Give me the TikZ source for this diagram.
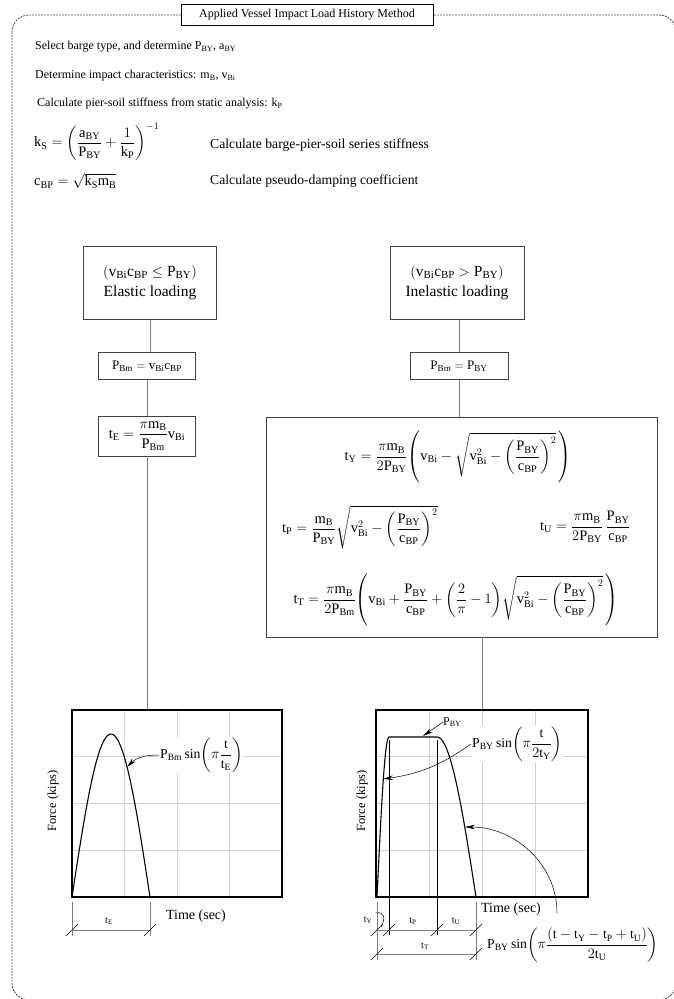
\documentclass[tikz,border=0pt]{standalone}
\usepackage{amsmath}
\usepackage{fontspec}
\setmainfont{Liberation Serif}
\usetikzlibrary{arrows.meta,positioning,calc}
\definecolor{linegrey}{HTML}{7F7F7F}
\definecolor{gridgrey}{HTML}{D2D2D2}
\definecolor{framegrey}{HTML}{505050}
\definecolor{boxgrey}{HTML}{404040}
\newcommand{\sbs}[2]{\mathrm{#1}_{\mathrm{#2}}}
\newcommand{\ratioPc}{\left(\dfrac{\sbs{P}{BY}}{\sbs{c}{BP}}\right)^{2}}

\begin{document}
\begin{tikzpicture}[x=1pt,y=-1pt,font=\fontsize{12}{14}\selectfont,
  txt/.style={anchor=west,inner sep=0pt},
  bigtxt/.style={txt,font=\fontsize{13.7}{16}\selectfont},
  eqn/.style={font=\fontsize{14.5}{17}\selectfont,inner sep=0pt},
  flowbox/.style={draw=boxgrey,fill=white,inner sep=2pt,align=center,
                  font=\fontsize{15.5}{18}\selectfont},
  conn/.style={draw=linegrey,line width=0.8pt},
  gridln/.style={draw=gridgrey,line width=0.7pt},
  plotframe/.style={draw=black,line width=1.7pt},
  load/.style={draw=black,line width=1.1pt},
  callout/.style={draw=black,line width=0.5pt,-{Stealth[length=3.5mm,width=1.6mm]}},
  dimln/.style={draw=linegrey,line width=0.6pt},
  dimtxt/.style={font=\fontsize{10}{12}\selectfont},
  lbl/.style={fill=white,inner sep=1pt,font=\fontsize{13.7}{16}\selectfont},
]
\useasboundingbox (0,0) rectangle (673,999);
% dashed outer frame
\draw[framegrey,line width=0.8pt,dash pattern=on 2pt off 1pt,rounded corners=17]
  (12,15) rectangle (676,1000);
\node[draw,fill=white,minimum width=252,minimum height=21,inner sep=2pt] (title) at (307,15)
  {Applied Vessel Impact Load History Method};

% steps
\node[txt] (selbarge) at (35,47) {Select barge type, and determine $\sbs{P}{BY}$, $\sbs{a}{BY}$};
\node[txt] (impact) at (35,76) {Determine impact characteristics: $\sbs{m}{B}$, $\sbs{v}{Bi}$};
\node[txt] (kpier) at (37,104) {Calculate pier-soil stiffness from static analysis: $\sbs{k}{P}$};
\node[eqn,anchor=west] (ksform) at (34,142) {$\sbs{k}{S}=\left(\dfrac{\sbs{a}{BY}}{\sbs{P}{BY}}+\dfrac{1}{\sbs{k}{P}}\right)^{-1}$};
\node[bigtxt] (kstext) at (210,145) {Calculate barge-pier-soil series stiffness};
\node[eqn,anchor=west] (cbpform) at (34,181) {$\sbs{c}{BP}=\sqrt{\sbs{k}{S}\sbs{m}{B}}$};
\node[bigtxt] (cbptext) at (210,181) {Calculate pseudo-damping coefficient};

% elastic branch
\node[flowbox,minimum width=133,minimum height=73] (elastic) at (150,283)
  {$(\sbs{v}{Bi}\sbs{c}{BP}\le\sbs{P}{BY})$\\[2pt]Elastic loading};
\node[flowbox,minimum width=97,minimum height=27,font=\fontsize{13}{15}\selectfont] (pbmE) at (147,366)
  {$\sbs{P}{Bm}=\sbs{v}{Bi}\sbs{c}{BP}$};
\node[flowbox,minimum width=97,minimum height=40,font=\fontsize{14.5}{17}\selectfont] (tE) at (147,436)
  {$\sbs{t}{E}=\dfrac{\pi\sbs{m}{B}}{\sbs{P}{Bm}}\sbs{v}{Bi}$};

% inelastic branch
\node[flowbox,minimum width=134,minimum height=73] (inelastic) at (457,283)
  {$(\sbs{v}{Bi}\sbs{c}{BP}>\sbs{P}{BY})$\\[2pt]Inelastic loading};
\node[flowbox,minimum width=98,minimum height=27,font=\fontsize{13}{15}\selectfont] (pbmI) at (459,366)
  {$\sbs{P}{Bm}=\sbs{P}{BY}$};
\node[flowbox,minimum width=391,minimum height=220] (tbox) at (462,527) {};
\node[eqn] (tY) at (458,457)
  {$\sbs{t}{Y}=\dfrac{\pi\sbs{m}{B}}{2\sbs{P}{BY}}\!\left(\sbs{v}{Bi}-\sqrt{\sbs{v}{Bi}^{2}-\ratioPc}\,\right)$};
\node[eqn,anchor=west] (tP) at (282,527)
  {$\sbs{t}{P}=\dfrac{\sbs{m}{B}}{\sbs{P}{BY}}\sqrt{\sbs{v}{Bi}^{2}-\ratioPc}$};
\node[eqn,anchor=west] (tU) at (540,527)
  {$\sbs{t}{U}=\dfrac{\pi\sbs{m}{B}}{2\sbs{P}{BY}}\,\dfrac{\sbs{P}{BY}}{\sbs{c}{BP}}$};
\node[eqn] (tT) at (456,600)
  {$\sbs{t}{T}=\dfrac{\pi\sbs{m}{B}}{2\sbs{P}{Bm}}\!\left(\sbs{v}{Bi}+\dfrac{\sbs{P}{BY}}{\sbs{c}{BP}}+\left(\dfrac{2}{\pi}-1\right)\!\sqrt{\sbs{v}{Bi}^{2}-\ratioPc}\,\right)$};

% grids
\foreach \gx in {124.5,177,229.5,429,482,535}
  \draw[gridln] (\gx,710) -- (\gx,897);
\foreach \gy in {756.75,803.5,850.25} {
  \draw[gridln] (72,\gy) -- (282,\gy);
  \draw[gridln] (376,\gy) -- (588,\gy);
}
\node[plotframe,minimum width=210,minimum height=187,inner sep=0pt] (plotL) at (177,803.5) {};
\node[plotframe,minimum width=212,minimum height=187,inner sep=0pt] (plotR) at (482,803.5) {};

% connectors
\draw[conn] (elastic) -- (elastic |- pbmE.north);
\draw[conn] (pbmE) -- (tE);
\draw[conn] (tE.south) -- (tE.south |- plotL.north);
\draw[conn] (inelastic.south -| pbmI) -- (pbmI);
\draw[conn] (pbmI) -- (pbmI |- tbox.north);
\draw[conn] (tbox.south -| plotR.north) -- (plotR.north);

% load curves
\draw[load] plot[domain=0:78,samples=50] ({72+\x},{897-163*sin(180*\x/78)});
\draw[load] plot[domain=0:12,samples=15] ({377+\x},{897-160*sin(90*\x/12)})
  -- (437,737) -- plot[domain=0:39,samples=30] ({437+\x},{897-160*cos(90*\x/39)});

\node[rotate=90,font=\fontsize{12.5}{14}\selectfont] (forceL) at (53,801) {Force (kips)};
\node[rotate=90,font=\fontsize{12.5}{14}\selectfont] (forceR) at (362,801) {Force (kips)};
\node[font=\fontsize{14}{16}\selectfont,inner sep=1pt] (timeL) at (196,916) {Time (sec)};
\node[font=\fontsize{14}{16}\selectfont,inner sep=1pt] (timeR) at (511,909) {Time (sec)};

% callouts
\node[txt,lbl] (sinE) at (159,755) {$\sbs{P}{Bm}\sin\!\left(\pi\dfrac{\mathrm{t}}{\sbs{t}{E}}\right)$};
\coordinate (hitE) at (127,767);
\draw[callout] (sinE.west) to[out=180,in=45] (hitE);

\node[txt,lbl] (sinY) at (471,744) {$\sbs{P}{BY}\sin\!\left(\pi\dfrac{\mathrm{t}}{2\sbs{t}{Y}}\right)$};
\coordinate (hitY) at (383,779);
\draw[callout] (sinY.west) to[out=215,in=8] (hitY);

\node[txt] (pby) at (443,722) {$\sbs{P}{BY}$};
\coordinate (hitTop) at (423,736);
\draw[callout] (pby.west) -- (hitTop);

\node[txt,font=\fontsize{13.7}{16}\selectfont] (sinU) at (487,945)
  {$\sbs{P}{BY}\sin\!\left(\pi\dfrac{(\mathrm{t}-\sbs{t}{Y}-\sbs{t}{P}+\sbs{t}{U})}{2\sbs{t}{U}}\right)$};
\coordinate (uStart) at (557,913);
\coordinate (hitU) at (465,827);
\draw[callout] (uStart) to[out=90,in=0] (hitU);

% dimensions, elastic
\draw[dimln] (72,902) -- (72,936) (150,902) -- (150,936) (72,930) -- (150,930);
\foreach \dx in {72,150}
  \draw[black,line width=0.5pt] ({\dx-6},936) -- ({\dx+6},924);
\node[dimtxt] (dimE) at (109,921) {$\sbs{t}{E}$};

% dimensions, inelastic
\draw[black,line width=0.5pt] (389,740) -- (389,935) (437,740) -- (437,935);
\draw[dimln] (377,902) -- (377,960) (476,902) -- (476,960)
  (377,930) -- (476,930) (377,954) -- (476,954);
\foreach \dx in {377,389,437,476}
  \draw[black,line width=0.5pt] ({\dx-6},936) -- ({\dx+6},924);
\foreach \dx in {377,476}
  \draw[black,line width=0.5pt] ({\dx-6},960) -- ({\dx+6},948);
\node[dimtxt] (dimY) at (368,920) {$\sbs{t}{Y}$};
\coordinate (tYend) at (381,927);
\draw[black,line width=0.5pt] (dimY.north east) to[out=10,in=60,looseness=1.6] (tYend);
\node[dimtxt] (dimP) at (413,921) {$\sbs{t}{P}$};
\node[dimtxt] (dimU) at (456,921) {$\sbs{t}{U}$};
\node[dimtxt] (dimT) at (425,946) {$\sbs{t}{T}$};
\end{tikzpicture}
\end{document}
